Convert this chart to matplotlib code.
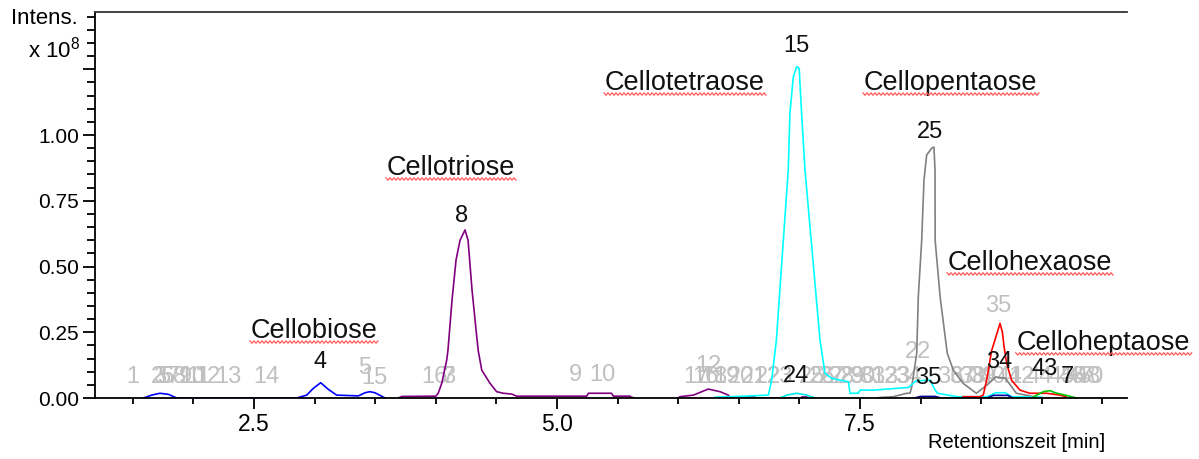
import numpy as np
import matplotlib
matplotlib.use("Agg")
import matplotlib.pyplot as plt
from matplotlib.lines import Line2D
from matplotlib.ticker import FixedLocator, MultipleLocator, FixedFormatter
from matplotlib.transforms import IdentityTransform

plt.rcParams["font.family"] = ["Liberation Sans", "DejaVu Sans"]
plt.rcParams["mathtext.fontset"] = "custom"
plt.rcParams["mathtext.rm"] = "Liberation Sans"

# --- traces (retention time [min], intensity [x1e8]) ---
blue_x = [1.587, 1.656, 1.724, 1.793, 1.862, 2.852, 2.935, 2.99, 3.05, 3.113, 3.182,
          3.361, 3.416, 3.457, 3.498, 3.581]
blue_y = [0, 0.011, 0.018, 0.014, 0, 0, 0.011, 0.037, 0.058, 0.033, 0.011,
          0.008, 0.02, 0.024, 0.02, 0]

purple_x = [3.69, 3.72, 4.00, 4.02, 4.049, 4.09, 4.10, 4.134, 4.167, 4.20, 4.241, 4.266,
            4.299, 4.332, 4.35, 4.379, 4.447, 4.502, 4.557, 4.626, 4.667, 5.245, 5.259,
            5.45, 5.465, 5.60, 5.616, 5.64]
purple_y = [0, 0.006, 0.007, 0.018, 0.056, 0.144, 0.18, 0.373, 0.525, 0.60, 0.639, 0.60,
            0.41, 0.259, 0.18, 0.106, 0.056, 0.024, 0.018, 0.015, 0.007, 0.007, 0.018,
            0.018, 0.007, 0.007, 0.003, 0]

purple2_x = [6.0, 6.015, 6.125, 6.248, 6.345, 6.413, 6.43]
purple2_y = [0, 0.005, 0.011, 0.034, 0.024, 0.011, 0]

purple3_x = [6.50, 6.51, 6.63, 6.64, 7.01, 7.02, 7.06, 7.07]
purple3_y = [0, 0.004, 0.004, 0, 0, 0.004, 0.004, 0]

cyan_x = [6.304, 6.50, 6.744, 6.771, 6.81, 6.908, 6.922, 6.95, 6.978, 6.998, 7.018, 7.046,
          7.17, 7.211, 7.266, 7.335, 7.404, 7.418, 7.486, 7.50, 7.61, 7.90, 7.96, 8.078,
          8.12, 8.14, 8.30, 8.55, 8.62, 8.70, 8.75, 9.0]
cyan_y = [0.003, 0.006, 0.011, 0.068, 0.22, 0.867, 1.084, 1.222, 1.26, 1.253, 1.084, 0.867,
          0.22, 0.094, 0.075, 0.068, 0.062, 0.018, 0.018, 0.03, 0.03, 0.04, 0.065, 0.068,
          0.03, 0.018, 0.005, 0.005, 0.02, 0.02, 0.005, 0.003]

cyan2_x = [6.84, 6.895, 6.978, 7.06, 7.13]
cyan2_y = [0, 0.011, 0.018, 0.011, 0]

gray_x = [7.638, 7.665, 7.775, 7.885, 7.913, 7.927, 7.968, 7.981, 8.009, 8.028, 8.05, 8.094,
          8.11, 8.119, 8.12, 8.161, 8.22, 8.27, 8.35, 8.46, 8.55, 8.62, 8.70, 8.79, 8.90, 9.0]
gray_y = [0, 0.002, 0.005, 0.018, 0.018, 0.043, 0.17, 0.385, 0.6, 0.829, 0.924, 0.951,
          0.954, 0.867, 0.60, 0.385, 0.17, 0.106, 0.056, 0.018, 0.05, 0.08, 0.075, 0.018,
          0.008, 0]

red_x = [8.35, 8.49, 8.517, 8.545, 8.586, 8.64, 8.655, 8.675, 8.69, 8.71, 8.75, 8.82,
         8.90, 9.04, 9.15, 9.2]
red_y = [0.005, 0.005, 0.011, 0.068, 0.18, 0.26, 0.284, 0.25, 0.19, 0.132, 0.068, 0.03,
         0.018, 0.018, 0.011, 0.005]

green_x = [8.917, 8.958, 9.013, 9.068, 9.109, 9.192, 9.288]
green_y = [0, 0.011, 0.024, 0.028, 0.02, 0.011, 0]

navy_x = [7.95, 8.0, 8.12, 8.17, 8.55, 8.6, 8.72, 8.76]
navy_y = [0, 0.006, 0.006, 0, 0, 0.01, 0.01, 0]

# --- compound names ---
compound_names = ["Cellobiose", "Cellotriose", "Cellotetraose", "Cellopentaose",
                  "Cellohexaose", "Celloheptaose"]
compound_x = [2.475, 3.597, 5.396, 7.533, 8.226, 8.793]
compound_y = [0.228, 0.848, 1.171, 1.171, 0.487, 0.183]

# --- peak numbers ---
peak_text = ["4", "8", "15", "25", "24", "35", "34", "43", "7"]
peak_x = [3.045, 4.216, 6.978, 8.078, 6.97, 8.06, 8.645, 9.026, 9.208]
peak_y = [0.137, 0.692, 1.338, 1.011, 0.084, 0.076, 0.137, 0.11, 0.08]

minor_text = ["1", "2", "3", "5", "6", "7", "8", "9", "10", "11", "12", "13", "14",
              "5", "15", "16", "7", "3", "9", "10",
              "12", "17", "16", "18", "19", "20", "21", "22", "23", "25", "26", "27", "28",
              "29", "30", "31", "32", "33", "34", "22",
              "36", "37", "38", "39", "40", "41", "42", "44", "45", "46", "47", "48", "50",
              "35"]
minor_x = [1.502, 1.700, 1.724, 1.757, 1.782, 1.832, 1.889, 1.931, 1.988, 2.046, 2.112,
           2.285, 2.599,
           3.416, 3.49, 3.985, 4.10, 4.105, 5.149, 5.371,
           6.246, 6.147, 6.221, 6.295, 6.394, 6.518, 6.625, 6.741, 6.84, 7.104, 7.186,
           7.269, 7.351, 7.434, 7.517, 7.599, 7.698, 7.805, 7.896, 7.979,
           8.243, 8.342, 8.424, 8.507, 8.597, 8.738, 8.837, 8.985, 9.167, 9.249, 9.315,
           9.381, 9.398,
           8.639]
minor_y = [0.078] * 13 + [0.114, 0.076, 0.078, 0.078, 0.078, 0.087, 0.087] + \
          [0.12] + [0.08] * 18 + [0.175] + [0.08] * 13 + [0.35]

x_major = [2.5, 5.0, 7.5]
y_major = [0, 0.25, 0.5, 0.75, 1.0, 1.25]
y_labels = ["0.00", "0.25", "0.50", "0.75", "1.00", ""]

W, H = 1199, 459
fig = plt.figure(figsize=(W / 100, H / 100), dpi=100)
ax = fig.add_axes([95 / W, 1 - 398 / H, (1127 - 95) / W, (398 - 12) / H])

traces = [
    (blue_x, blue_y, "#0000ff"),
    (purple_x, purple_y, "#800080"),
    (purple2_x, purple2_y, "#800080"),
    (purple3_x, purple3_y, "#800080"),
    (cyan2_x, cyan2_y, "#00e8e8"),
    (gray_x, gray_y, "#808080"),
    (cyan_x, cyan_y, "#00ffff"),
    (navy_x, navy_y, "#0000a0"),
    (red_x, red_y, "#ff0000"),
    (green_x, green_y, "#00c800"),
]
for xs, ys, c in traces:
    ax.plot(xs, ys, color=c, lw=1.2, zorder=2)

ax.set_xlim(1.188, 9.703)
ax.set_ylim(0, 1.4677)

ax.xaxis.set_major_locator(FixedLocator(x_major))
ax.xaxis.set_minor_locator(MultipleLocator(0.5))
ax.yaxis.set_major_locator(FixedLocator(y_major))
ax.yaxis.set_major_formatter(FixedFormatter(y_labels))
ax.yaxis.set_minor_locator(MultipleLocator(0.05))

ax.spines["right"].set_visible(False)
for s in ["left", "bottom", "top"]:
    ax.spines[s].set_linewidth(1.3)
ax.spines["top"].set_color("#333333")

ax.tick_params(axis="both", which="both", direction="out", width=1.4, color="#111111")
ax.tick_params(axis="x", which="major", length=8, labelsize=16.5, pad=3)
ax.tick_params(axis="x", which="minor", length=4.5)
ax.tick_params(axis="y", which="major", length=8.5, labelsize=15, pad=3)
ax.tick_params(axis="y", which="minor", length=5.5)

for t, x, y in zip(minor_text, minor_x, minor_y):
    ax.text(x, y, t, color="#c0c0c0", fontsize=17, ha="center", va="center", zorder=1)

for t, x, y in zip(peak_text, peak_x, peak_y):
    ax.text(x, y, t, color="#111111", fontsize=17, ha="center", va="center", zorder=3)

name_texts = []
for t, x, y in zip(compound_names, compound_x, compound_y):
    name_texts.append(ax.text(x, y, t, color="#111111", fontsize=19.5, ha="left",
                              va="baseline", clip_on=False, zorder=3))

fig.text(78 / W, 1 - 18 / H, "Intens.", fontsize=16, ha="right", va="center")
fig.text(80 / W, 1 - 50 / H, r"x 10$^8$", fontsize=16, ha="right", va="center")
fig.text(1105 / W, 1 - 442 / H, "Retentionszeit [min]", fontsize=14.5, ha="right",
         va="center")

# red spell-check squiggles under the compound names
fig.canvas.draw()
renderer = fig.canvas.get_renderer()
for txt, x, y in zip(name_texts, compound_x, compound_y):
    bb = txt.get_window_extent(renderer)
    base = ax.transData.transform((x, y))[1]
    xs = np.arange(bb.x0 - 1, bb.x1 + 2, 2.0)
    ys = base - 4 + 1.2 * np.where(np.arange(len(xs)) % 2 == 0, 1, -1)
    fig.add_artist(Line2D(xs, ys, transform=IdentityTransform(), color="#ff5a5a",
                          lw=0.9, clip_on=False))

fig.savefig("out.png", dpi=100)
